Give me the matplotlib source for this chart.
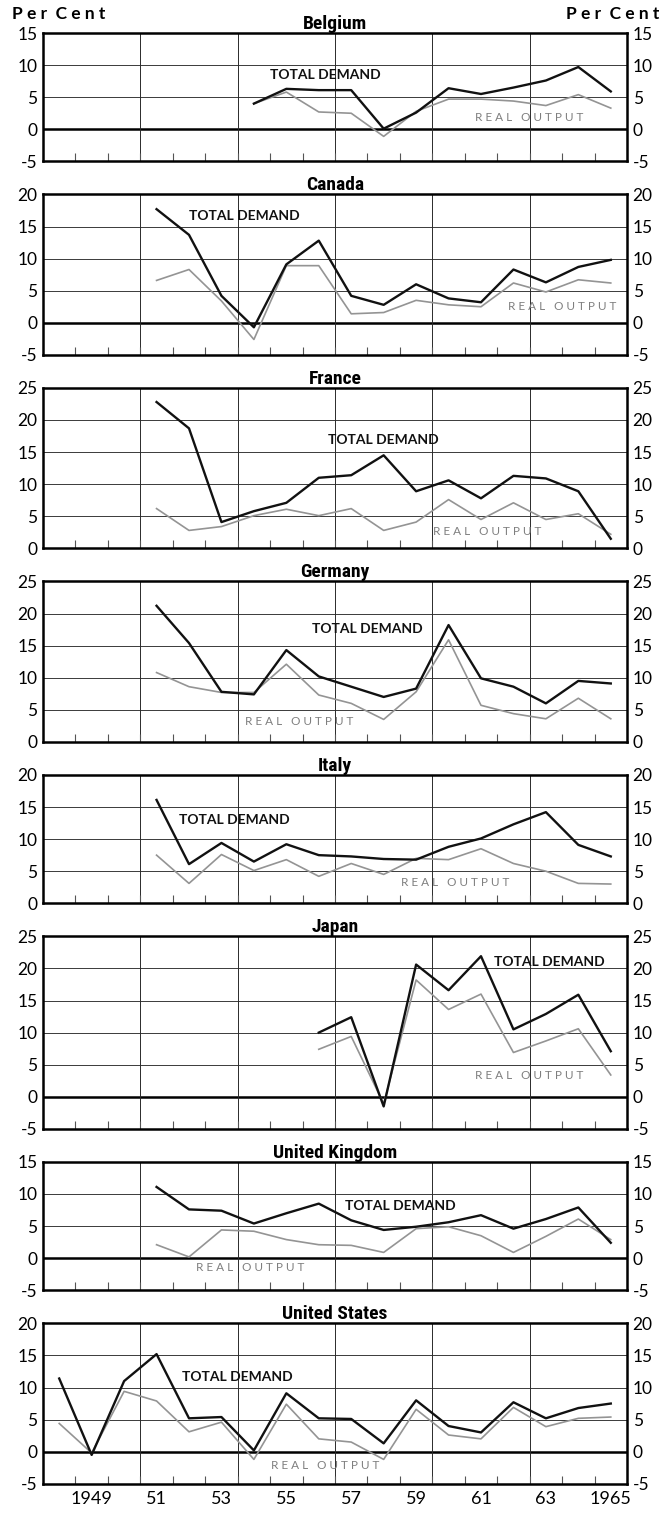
import matplotlib.pyplot as plt

plt.rcParams['font.family'] = ['Lato', 'DejaVu Sans']

# years on the x axis
years_48 = list(range(1948, 1966))
years_51 = list(range(1951, 1966))
years_54 = list(range(1954, 1966))
years_56 = list(range(1956, 1966))

# per cent change
belgium_demand = [4.0, 6.3, 6.1, 6.1, 0.1, 2.6, 6.4, 5.5, 6.5, 7.6, 9.7, 5.9]
belgium_output = [4.0, 5.8, 2.7, 2.5, -1.1, 2.8, 4.7, 4.7, 4.4, 3.7, 5.4, 3.3]

canada_demand = [17.7, 13.7, 4.2, -0.7, 9.1, 12.8, 4.2, 2.8, 6.0, 3.8, 3.2, 8.3, 6.3, 8.7, 9.8]
canada_output = [6.6, 8.3, 3.4, -2.6, 8.9, 8.9, 1.4, 1.6, 3.5, 2.8, 2.5, 6.2, 4.8, 6.7, 6.2]

france_demand = [22.8, 18.7, 4.1, 5.8, 7.1, 11.0, 11.4, 14.5, 8.9, 10.6, 7.8, 11.3, 10.9, 8.9, 1.5]
france_output = [6.2, 2.8, 3.4, 5.1, 6.1, 5.1, 6.2, 2.8, 4.1, 7.6, 4.5, 7.1, 4.5, 5.4, 2.2]

germany_demand = [21.2, 15.4, 7.8, 7.4, 14.3, 10.2, 8.6, 7.0, 8.3, 18.2, 9.9, 8.6, 6.0, 9.5, 9.1]
germany_output = [10.8, 8.6, 7.7, 7.7, 12.1, 7.3, 6.0, 3.5, 7.8, 15.9, 5.7, 4.4, 3.6, 6.8, 3.6]

italy_demand = [16.1, 6.1, 9.4, 6.5, 9.2, 7.5, 7.3, 6.9, 6.8, 8.8, 10.1, 12.3, 14.2, 9.1, 7.3]
italy_output = [7.5, 3.1, 7.6, 5.1, 6.8, 4.2, 6.2, 4.5, 7.0, 6.8, 8.5, 6.2, 5.0, 3.1, 3.0]

japan_demand = [10.0, 12.4, -1.5, 20.6, 16.6, 21.9, 10.5, 12.9, 15.9, 7.1]
japan_output = [7.4, 9.4, -1.1, 18.2, 13.6, 16.0, 6.9, 8.7, 10.6, 3.4]

uk_demand = [11.1, 7.6, 7.4, 5.4, 7.0, 8.5, 5.9, 4.4, 4.9, 5.6, 6.7, 4.6, 6.1, 7.9, 2.4]
uk_output = [2.1, 0.2, 4.4, 4.2, 2.9, 2.1, 2.0, 0.9, 4.6, 4.9, 3.5, 0.9, 3.4, 6.1, 2.9]

us_demand = [11.4, -0.5, 11.0, 15.2, 5.2, 5.4, 0.2, 9.1, 5.2, 5.1, 1.3, 8.0, 4.0, 3.0, 7.7, 5.2, 6.8, 7.5]
us_output = [4.4, -0.2, 9.4, 7.9, 3.1, 4.6, -1.2, 7.4, 2.0, 1.5, -1.2, 6.6, 2.6, 2.0, 6.9, 3.9, 5.2, 5.4]

countries = ["Belgium", "Canada", "France", "Germany", "Italy", "Japan", "United Kingdom", "United States"]
y_ranges = [(-5, 15), (-5, 20), (0, 25), (0, 25), (0, 20), (-5, 25), (-5, 15), (-5, 20)]
x_years = [years_54, years_51, years_51, years_51, years_51, years_56, years_51, years_48]
demand = [belgium_demand, canada_demand, france_demand, germany_demand,
          italy_demand, japan_demand, uk_demand, us_demand]
output = [belgium_output, canada_output, france_output, germany_output,
          italy_output, japan_output, uk_output, us_output]
# where the two series labels sit (year, per cent)
demand_label_pos = [(1956.2, 8.4), (1953.7, 16.7), (1958.0, 16.9), (1957.5, 17.6),
                    (1953.4, 13.0), (1963.1, 21.0), (1958.5, 8.2), (1953.5, 11.7)]
output_label_pos = [(1962.5, 1.8), (1963.5, 2.6), (1961.2, 2.6), (1955.4, 3.1),
                    (1960.2, 3.3), (1962.5, 3.35), (1953.9, -1.4), (1956.2, -2.2)]

year_labels = ["1949", "51", "53", "55", "57", "59", "61", "63", "1965"]
year_label_pos = [1949, 1951, 1953, 1955, 1957, 1959, 1961, 1963, 1965]

W, H = 661, 1513
fig = plt.figure(figsize=(W / 100, H / 100), dpi=100)

left, right = 43, 627
px_per_unit = 6.42
gap = 33
top = 33
title_font = ['Noto Sans Condensed', 'Roboto Condensed', 'Liberation Sans Narrow',
              'Open Sans Condensed', 'Noto Sans', 'DejaVu Sans']

for i, name in enumerate(countries):
    ymin, ymax = y_ranges[i]
    h = (ymax - ymin) * px_per_unit
    ax = fig.add_axes([left / W, 1 - (top + h) / H, (right - left) / W, h / H])
    top += h + gap

    ax.set_xlim(1947.5, 1965.5)
    ax.set_ylim(ymin, ymax)

    for v in range(ymin + 5, ymax, 5):
        if v == 0:
            ax.axhline(v, color='black', lw=1.8, zorder=1)
        else:
            ax.axhline(v, color='#3a3a3a', lw=0.7, zorder=1)
    for xv in [1950.5, 1953.5, 1956.5, 1959.5, 1962.5]:
        ax.axvline(xv, color='#2a2a2a', lw=0.7, zorder=1)

    ax.plot(x_years[i], output[i], color='#949494', lw=1.2, zorder=2)
    ax.plot(x_years[i], demand[i], color='#111111', lw=1.7, zorder=3)

    dx, dy = demand_label_pos[i]
    ax.text(dx, dy, "TOTAL DEMAND", fontsize=10, fontweight='bold',
            ha='center', va='center', color='#111111', zorder=4)
    ox, oy = output_label_pos[i]
    ax.text(ox, oy, "R E A L   O U T P U T", fontsize=8.5, fontweight='normal',
            ha='center', va='center', color='#7f7f7f', zorder=4)

    ax.set_yticks(list(range(ymin, ymax + 1, 5)))
    ax.set_yticklabels([str(v) for v in range(ymin, ymax + 1, 5)])
    ax.tick_params(axis='y', length=0, labelleft=True, labelright=True,
                   labelsize=12.5, pad=4)

    ax.set_xticks([y + 0.5 for y in range(1948, 1965)], minor=True)
    ax.tick_params(axis='x', which='minor', direction='in', length=6,
                   width=0.8, color='#555555', bottom=True, top=False)
    if i == len(countries) - 1:
        ax.set_xticks(year_label_pos)
        ax.set_xticklabels(year_labels)
        ax.tick_params(axis='x', which='major', length=0, labelsize=13, pad=5)
    else:
        ax.set_xticks([])

    for sp in ax.spines.values():
        sp.set_linewidth(1.8)
        sp.set_zorder(5)

    ax.set_title(name, family=title_font, fontstretch='condensed',
                 fontweight='bold', fontsize=14, pad=2)

fig.text(12 / W, 1 - 14 / H, "P e r  C e n t", fontsize=12.5, fontweight='bold',
         ha='left', va='center')
fig.text(566 / W, 1 - 14 / H, "P e r  C e n t", fontsize=12.5, fontweight='bold',
         ha='left', va='center')

fig.savefig("out.png", dpi=100, facecolor='white')
